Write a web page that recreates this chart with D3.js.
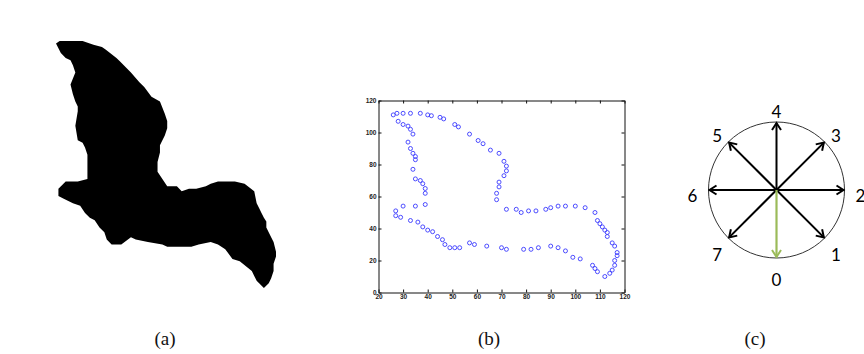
<!DOCTYPE html>
<html>
<head>
<meta charset="utf-8">
<script src="https://cdn.jsdelivr.net/npm/d3@7"></script>
<style>
  html, body { margin: 0; padding: 0; background: #fff; }
  svg { display: block; }
</style>
</head>
<body>
<svg id="chart" width="864" height="354"></svg>
<script>
// contour samples of the shape, walked once round the outline
const contourX = [26, 27.5, 30, 33, 37, 40, 41.5, 45, 46.5, 51, 52.5, 57, 60.5, 62.5, 65.5, 69, 71, 72, 72, 71,
  69, 69, 68, 68, 72, 76, 78, 81, 84, 88, 90, 93, 96, 100, 104, 108, 109, 110, 111, 112,
  113, 113, 115, 116, 117, 117, 116, 116, 115, 114, 112, 109, 108, 107, 102, 99, 96, 93, 90, 85,
  82, 79, 72, 70, 64, 59, 57, 53, 51, 49, 47, 46, 44, 42, 40, 38, 36, 33, 29, 27,
  27, 30, 35, 39, 39, 39, 38, 37, 35, 34, 35, 35, 34, 33, 32, 34, 33, 32, 30, 28];
const contourY = [111, 112, 112, 112, 112, 111, 110.5, 109.5, 108.5, 105, 103.5, 99, 95, 93, 89, 87, 82, 79, 76, 73,
  69, 66, 62, 58, 52, 52, 50, 51, 51, 52, 53, 54, 54, 54, 53, 50, 45, 43, 41, 39,
  37.5, 35, 31, 29, 25, 23, 20, 17, 14, 12, 10, 13, 15, 17, 21, 22, 26, 28, 29, 28,
  27, 27, 27, 28, 29, 30, 31, 28, 28, 28, 30, 33, 35, 38, 39, 41, 44, 45, 47, 48,
  51, 54, 54, 55, 62, 65, 68, 70, 71, 77, 83, 85, 87, 90, 94, 99, 102, 104, 105, 107];

const xTicks = [20, 30, 40, 50, 60, 70, 80, 90, 100, 110, 120];
const yTicks = [0, 20, 40, 60, 80, 100, 120];

// chain code directions, 0 = down, counting anticlockwise
const directions = [0, 1, 2, 3, 4, 5, 6, 7];
const doubleArrows = [[6, 2], [5, 1], [7, 3]];
const singleArrows = [4];
const highlighted = 0;

const captions = ["(a)", "(b)", "(c)"];

const svg = d3.select("#chart");
const points = contourX.map((x, i) => [x, contourY[i]]);

// (a) filled shape
const ax = d3.scaleLinear().domain([26, 117]).range([56, 276]);
const ay = d3.scaleLinear().domain([10, 112]).range([288, 41]);

svg.append("path")
  .datum(points)
  .attr("d", d3.line().x(d => ax(d[0])).y(d => ay(d[1])).curve(d3.curveLinearClosed))
  .attr("fill", "#000");

// (b) contour points on matlab-ish box axes
const sx = d3.scaleLinear().domain([20, 120]).range([378.5, 624.5]);
const sy = d3.scaleLinear().domain([0, 120]).range([292.5, 100.5]);

const axes = svg.append("g").attr("class", "axes");
axes.append("g")
  .attr("transform", `translate(0,${sy(0)})`)
  .call(d3.axisBottom(sx).tickValues(xTicks).tickSizeInner(-3).tickSizeOuter(0).tickPadding(2));
axes.append("g")
  .attr("transform", `translate(0,${sy(120)})`)
  .call(d3.axisTop(sx).tickValues(xTicks).tickFormat("").tickSizeInner(-3).tickSizeOuter(0));
axes.append("g")
  .attr("transform", `translate(${sx(20)},0)`)
  .call(d3.axisLeft(sy).tickValues(yTicks).tickSizeInner(-3).tickSizeOuter(0).tickPadding(2));
axes.append("g")
  .attr("transform", `translate(${sx(120)},0)`)
  .call(d3.axisRight(sy).tickValues(yTicks).tickFormat("").tickSizeInner(-3).tickSizeOuter(0));

axes.selectAll("g").attr("font-family", "Liberation Sans, Arial, sans-serif").attr("font-size", 6.5);
axes.selectAll("text").attr("fill", "#222").attr("font-weight", "bold");
axes.selectAll("path, line").attr("stroke", "#111");

svg.append("g")
  .selectAll("circle")
  .data(points)
  .join("circle")
  .attr("cx", d => sx(d[0]))
  .attr("cy", d => sy(d[1]))
  .attr("r", 2)
  .attr("fill", "none")
  .attr("stroke", "#3a3aff")
  .attr("stroke-width", 0.9);

// (c) eight direction compass
const cx = 776.5, cy = 190;
const ringR = 68, tipR = 67, labelR = 84;
const ang = d3.scaleLinear().domain([0, 8]).range([Math.PI / 2, Math.PI / 2 - 2 * Math.PI]);
const pt = (k, r) => [cx + r * Math.cos(ang(k)), cy + r * Math.sin(ang(k))];

const defs = svg.append("defs");
[["head", "#000"], ["headGreen", "#9bbb59"]].forEach(([id, col]) => {
  defs.append("marker")
    .attr("id", id)
    .attr("viewBox", "-10 -6 12 12")
    .attr("refX", 0).attr("refY", 0)
    .attr("markerUnits", "userSpaceOnUse")
    .attr("markerWidth", 12).attr("markerHeight", 12)
    .attr("orient", "auto-start-reverse")
    .append("path")
    .attr("d", "M-7,-4.5L0,0L-7,4.5")
    .attr("fill", "none")
    .attr("stroke", col)
    .attr("stroke-width", 2);
});

const comp = svg.append("g");
comp.append("circle")
  .attr("cx", cx).attr("cy", cy).attr("r", ringR)
  .attr("fill", "none").attr("stroke", "#333").attr("stroke-width", 1);

comp.selectAll("line.dbl")
  .data(doubleArrows)
  .join("line")
  .attr("class", "dbl")
  .attr("x1", d => pt(d[0], tipR)[0]).attr("y1", d => pt(d[0], tipR)[1])
  .attr("x2", d => pt(d[1], tipR)[0]).attr("y2", d => pt(d[1], tipR)[1])
  .attr("stroke", "#000").attr("stroke-width", 2)
  .attr("marker-start", "url(#head)").attr("marker-end", "url(#head)");

comp.selectAll("line.one")
  .data(singleArrows)
  .join("line")
  .attr("class", "one")
  .attr("x1", cx).attr("y1", cy)
  .attr("x2", d => pt(d, tipR)[0]).attr("y2", d => pt(d, tipR)[1])
  .attr("stroke", "#000").attr("stroke-width", 2)
  .attr("marker-end", "url(#head)");

comp.append("line")
  .attr("x1", cx).attr("y1", cy)
  .attr("x2", pt(highlighted, tipR)[0]).attr("y2", pt(highlighted, tipR)[1])
  .attr("stroke", "#9bbb59").attr("stroke-width", 2.2)
  .attr("marker-end", "url(#headGreen)");

comp.selectAll("text")
  .data(directions)
  .join("text")
  .attr("x", d => pt(d, labelR)[0])
  .attr("y", d => pt(d, labelR)[1] + 5)
  .attr("text-anchor", "middle")
  .attr("dominant-baseline", "central")
  .attr("font-family", "Lato, sans-serif")
  .attr("font-size", 17)
  .attr("fill", "#000")
  .text(d => d);

// captions under each panel
const capX = d3.scaleOrdinal().domain(captions).range([165, 489, 755]);
svg.selectAll("text.cap")
  .data(captions)
  .join("text")
  .attr("class", "cap")
  .attr("x", d => capX(d))
  .attr("y", 345)
  .attr("text-anchor", "middle")
  .attr("font-family", "Liberation Serif, serif")
  .attr("font-size", 19)
  .attr("fill", "#111")
  .text(d => d);
</script>
</body>
</html>
